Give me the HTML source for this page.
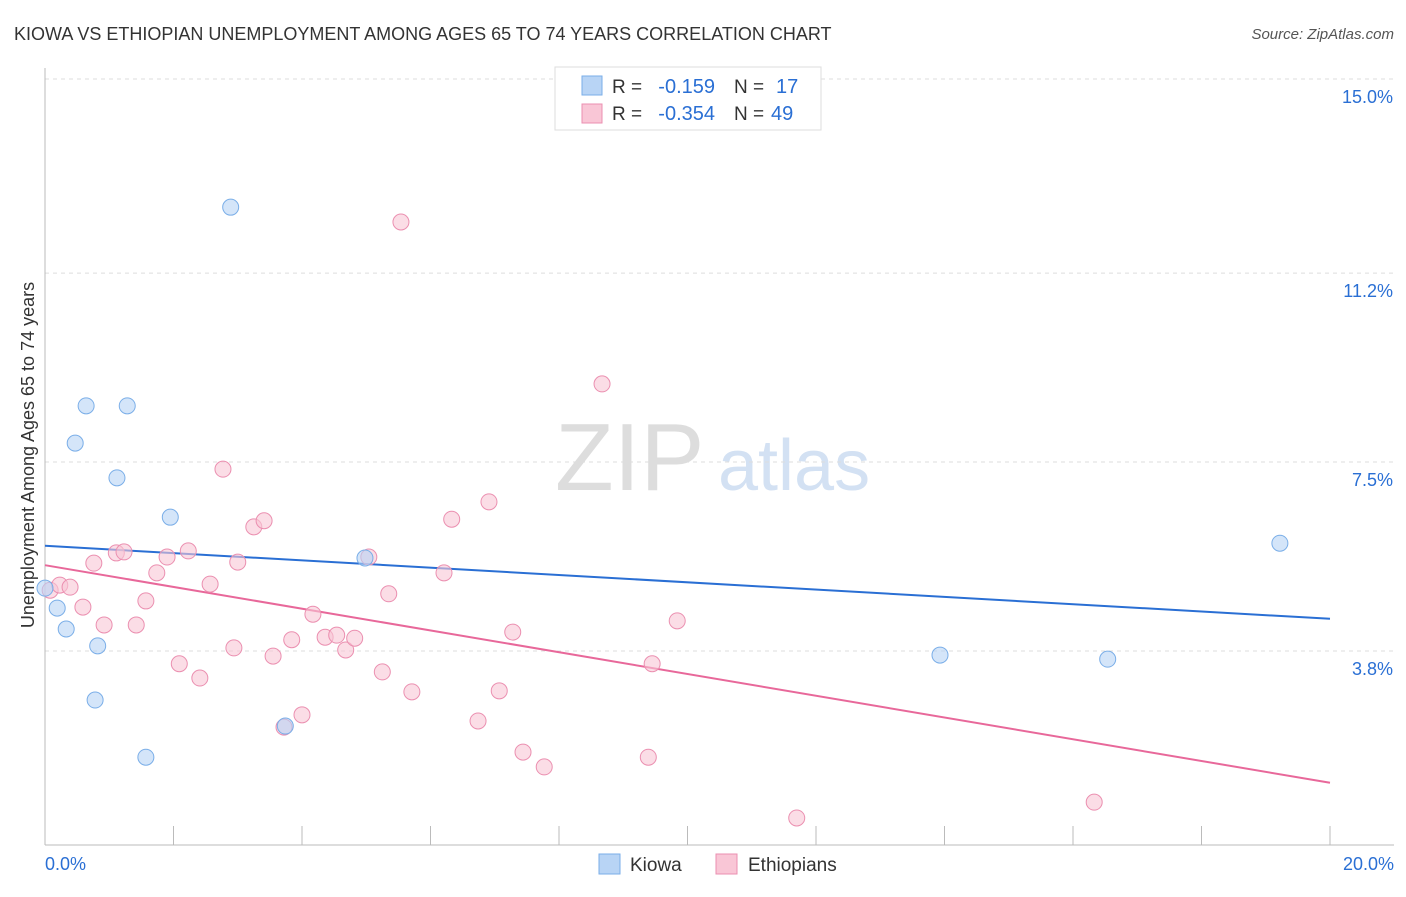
<!DOCTYPE html>
<html><head><meta charset="utf-8"><style>
body{margin:0;background:#fff;font-family:"Liberation Sans",sans-serif;}
svg text{font-family:"Liberation Sans",sans-serif;}
</style></head><body>
<svg id="chart" width="1406" height="892">
<text x="14" y="40" font-size="18" fill="#333">KIOWA VS ETHIOPIAN UNEMPLOYMENT AMONG AGES 65 TO 74 YEARS CORRELATION CHART</text>
<text x="1394" y="39" font-size="15" fill="#555" font-style="italic" text-anchor="end">Source: ZipAtlas.com</text>
<text x="555" y="490" font-size="96" fill="#ddd" font-family="Liberation Serif">ZIP</text>
<text x="718" y="490" font-size="72" fill="#d3e1f3">atlas</text>
<text transform="translate(34,455) rotate(-90)" font-size="18" fill="#333" text-anchor="middle">Unemployment Among Ages 65 to 74 years</text>
<g id="grid"></g><g id="axes"></g><g id="lines"></g><g id="points"></g>
<g>
<rect x="555" y="67" width="266" height="63" fill="#fff" stroke="#ddd"/>
<rect x="582" y="76" width="20" height="19" fill="#b8d4f5" stroke="#7aaee8"/>
<rect x="582" y="104" width="20" height="19" fill="#f9c6d6" stroke="#eb8fb0"/>
<text x="612" y="93" font-size="19" fill="#333">R =</text>
<text x="715" y="93" font-size="20" fill="#2a6fd4" text-anchor="end">-0.159</text>
<text x="734" y="93" font-size="19" fill="#333">N =</text>
<text x="776" y="93" font-size="20" fill="#2a6fd4">17</text>
<text x="612" y="120" font-size="19" fill="#333">R =</text>
<text x="715" y="120" font-size="20" fill="#2a6fd4" text-anchor="end">-0.354</text>
<text x="734" y="120" font-size="19" fill="#333">N =</text>
<text x="771" y="120" font-size="20" fill="#2a6fd4">49</text>
</g>
<g>
<rect x="599" y="854" width="21" height="20" fill="#b8d4f5" stroke="#7aaee8"/>
<text x="630" y="871" font-size="19" fill="#333">Kiowa</text>
<rect x="716" y="854" width="21" height="20" fill="#f9c6d6" stroke="#eb8fb0"/>
<text x="748" y="871" font-size="19" fill="#333">Ethiopians</text>
</g>
</svg>
<script>
const yTicks=[15.0,11.2,7.5,3.8];
const yTickLabels=["15.0%","11.2%","7.5%","3.8%"];
const xTickLabels=["0.0%","20.0%"];
const kiowaX=[0.0,0.19,0.33,0.47,0.64,1.28,1.12,0.82,0.78,1.57,1.95,2.89,3.74,4.98,13.93,16.54,19.22];
const kiowaY=[5.03,4.64,4.23,7.87,8.60,8.60,7.19,3.90,2.84,1.72,6.42,12.49,2.33,5.62,3.72,3.64,5.91];
const ethX=[0.08,0.23,0.39,0.59,0.76,0.92,1.11,1.23,1.42,1.57,1.74,1.90,2.09,2.23,2.41,2.57,2.77,2.94,3.00,3.25,3.41,3.55,3.72,3.84,4.00,4.17,4.36,4.54,4.68,4.82,5.04,5.25,5.35,5.54,5.71,6.21,6.33,6.74,6.91,7.07,7.28,7.44,7.77,8.67,9.39,9.45,9.84,11.70,16.33];
const ethY=[4.99,5.09,5.05,4.66,5.52,4.31,5.72,5.74,4.31,4.78,5.33,5.64,3.55,5.76,3.27,5.11,7.36,3.86,5.54,6.23,6.35,3.70,2.31,4.02,2.55,4.52,4.07,4.11,3.82,4.05,5.64,3.39,4.92,12.20,3.00,5.33,6.38,2.43,6.72,3.02,4.17,1.82,1.53,9.03,1.72,3.55,4.39,0.53,0.84];
const kiowaTrend=[5.86,4.43];
const ethTrend=[5.48,1.22];
const NS="http://www.w3.org/2000/svg";
const X=v=>45+v/20*1285, Y=v=>79+(15-v)*51.07;
function mk(t,a,p){const e=document.createElementNS(NS,t);for(const k in a)e.setAttribute(k,a[k]);document.getElementById(p).appendChild(e);return e;}
yTicks.forEach((t,i)=>{
 const l=mk('line',{x1:45,x2:1394,y1:Y(t),y2:Y(t),stroke:'#ddd','stroke-dasharray':'4,4'},'grid');
 
 
 const tx=mk('text',{x:1393,y:Y(t)+24,'font-size':18,fill:'#2a6fd4','text-anchor':'end'},'grid');
 tx.textContent=yTickLabels[i];
 
 
});
let a=mk('line',{x1:45,x2:45,y1:68,y2:845,stroke:'#bbb'},'axes');


a=mk('line',{x1:45,x2:1394,y1:845,y2:845,stroke:'#bbb'},'axes');


for(let i=1;i<=10;i++){const t=mk('line',{x1:X(i*2),x2:X(i*2),y1:826,y2:845,stroke:'#bbb'},'axes');
 
 }
[[0,'start',45],[1,'end',1394]].forEach(([i,anc,x])=>{const t=mk('text',{x:x,y:870,'font-size':18,fill:'#2a6fd4','text-anchor':anc},'axes');t.textContent=xTickLabels[i];
 
 });
function pts(xs,ys,fill,stroke,name){xs.forEach((x,i)=>{const c=mk('circle',{cx:X(x),cy:Y(ys[i]),r:8,fill:fill,'fill-opacity':0.6,stroke:stroke,'stroke-width':1},'points');
 
 });}
pts(ethX,ethY,'#f9c6d6','#eb8fb0','ethiopians-point');
pts(kiowaX,kiowaY,'#b8d4f5','#7aaee8','kiowa-point');
let t=mk('line',{x1:X(0),y1:Y(kiowaTrend[0]),x2:X(20),y2:Y(kiowaTrend[1]),stroke:'#2a6fd4','stroke-width':2},'lines');


t=mk('line',{x1:X(0),y1:Y(ethTrend[0]),x2:X(20),y2:Y(ethTrend[1]),stroke:'#e8689a','stroke-width':2},'lines');


</script>
</body></html>
